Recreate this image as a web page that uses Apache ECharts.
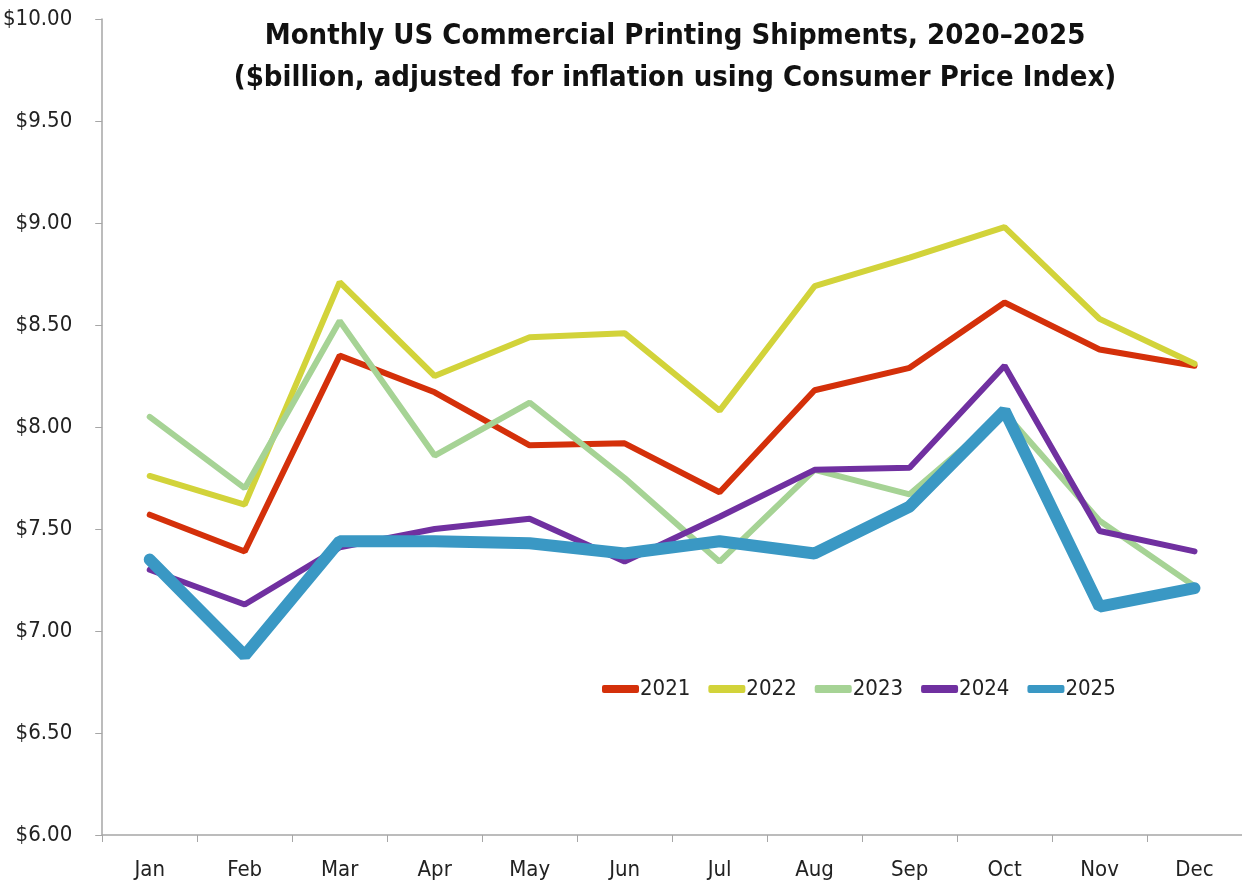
<!DOCTYPE html>
<html>
<head>
<meta charset="utf-8">
<title>Monthly US Commercial Printing Shipments</title>
<script src="https://cdn.jsdelivr.net/npm/echarts@6/dist/echarts.min.js"></script>
<style>
  html, body { margin: 0; padding: 0; background: #fff; }
  #main { width: 1242px; height: 884px; }
</style>
</head>
<body>
<div id="main"></div>
<script>
// data ($billion)
var months = ["Jan", "Feb", "Mar", "Apr", "May", "Jun", "Jul", "Aug", "Sep", "Oct", "Nov", "Dec"];
var y2021 = [7.57, 7.39, 8.35, 8.17, 7.91, 7.92, 7.68, 8.18, 8.29, 8.61, 8.38, 8.30];
var y2022 = [7.76, 7.62, 8.71, 8.25, 8.44, 8.46, 8.08, 8.69, 8.83, 8.98, 8.53, 8.31];
var y2023 = [8.05, 7.70, 8.52, 7.86, 8.12, 7.75, 7.34, 7.79, 7.67, 8.07, 7.54, 7.22];
var y2024 = [7.30, 7.13, 7.41, 7.50, 7.55, 7.34, 7.56, 7.79, 7.80, 8.30, 7.49, 7.39];
var y2025 = [7.35, 6.88, 7.44, 7.44, 7.43, 7.38, 7.44, 7.38, 7.61, 8.08, 7.12, 7.21];

var font = "'DejaVu Sans Condensed', 'Liberation Sans Narrow', sans-serif";

function line(name, data, color, width) {
  return {
    name: name,
    type: "line",
    data: data,
    symbol: "none",
    lineStyle: { color: color, width: width, cap: "round" },
    itemStyle: { color: color }
  };
}

var chart = echarts.init(document.getElementById("main"));
chart.setOption({
  animation: false,
  textStyle: { fontFamily: font },
  title: {
    text: "Monthly US Commercial Printing Shipments, 2020\u20132025\n($billion, adjusted for inflation using Consumer Price Index)",
    left: 670,
    top: 10,
    textAlign: "center",
    textStyle: { fontFamily: font, fontSize: 29, fontWeight: "bold", color: "#111", lineHeight: 42 }
  },
  legend: {
    left: 597,
    top: 673,
    icon: "roundRect",
    itemWidth: 37,
    itemHeight: 8,
    itemGap: 18,
    textStyle: { fontFamily: font, fontSize: 22, color: "#222", padding: [0, 0, 0, -4] },
    data: ["2021", "2022", "2023", "2024", "2025"]
  },
  grid: { left: 102, right: -4, top: 19, bottom: 49, containLabel: false },
  xAxis: {
    type: "category",
    data: months,
    boundaryGap: true,
    axisLine: { lineStyle: { color: "#a6a6a6", width: 1.5 } },
    axisTick: { show: true, length: 7, lineStyle: { color: "#a6a6a6" } },
    axisLabel: { fontFamily: font, fontSize: 22, color: "#222", margin: 24 }
  },
  yAxis: {
    type: "value",
    min: 6,
    max: 10,
    interval: 0.5,
    splitLine: { show: false },
    axisLine: { show: true, lineStyle: { color: "#a6a6a6", width: 1.5 } },
    axisTick: { show: true, length: 7, lineStyle: { color: "#a6a6a6" } },
    axisLabel: {
      fontFamily: font, fontSize: 22, color: "#222", margin: 30,
      formatter: function (v) { return "$" + v.toFixed(2); }
    }
  },
  series: [
    line("2021", y2021, "#d4300a", 6),
    line("2022", y2022, "#d2d33a", 6),
    line("2023", y2023, "#a6d395", 6),
    line("2024", y2024, "#7030a0", 6),
    line("2025", y2025, "#3a98c4", 12)
  ]
});
</script>
</body>
</html>
